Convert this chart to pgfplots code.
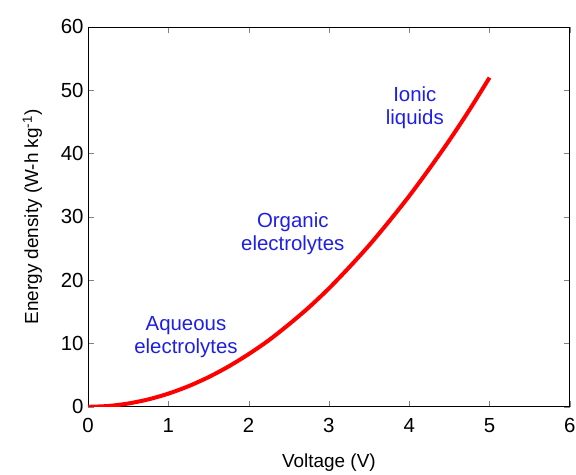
\documentclass[border=0pt]{standalone}
\usepackage{fontspec}
\setmainfont{Liberation Sans}
\usepackage{pgfplots}
\pgfplotsset{compat=1.18}
\definecolor{lblblue}{RGB}{30,30,230}

\begin{document}
\begin{tikzpicture}
  \begin{axis}[
      scale only axis,
      width=482bp, height=380bp,
      xmin=0, xmax=6,
      ymin=0, ymax=60,
      xtick={0,1,...,6},
      ytick={0,10,...,60},
      tick align=inside,
      major tick length=6bp,
      xlabel={Voltage (V)},
      ylabel={Energy density (W-h kg\textsuperscript{-1})},
      ylabel style={yshift=12bp},
      xlabel style={yshift=-14bp},
      xticklabel style={yshift=-8bp},
      yticklabel style={xshift=-1bp},
      /pgf/number format/assume math mode=true,
      tick label style={font=\fontsize{20.5}{23}\selectfont},
      label style={font=\fontsize{19}{22}\selectfont},
      axis line style={line width=0.9pt},
    ]
    \addplot[color=red, line width=4pt, smooth] coordinates {
      (0,0) (0.25,0.13) (0.5,0.52) (0.75,1.17) (1,2.08) (1.25,3.25)
      (1.5,4.68) (1.75,6.37) (2,8.32) (2.25,10.5) (2.5,13.0) (2.75,15.7)
      (3,18.7) (3.25,22.0) (3.5,25.5) (3.75,29.3) (4,33.3) (4.25,37.6)
      (4.5,42.1) (4.75,46.9) (5,52.0)
    };
    \node[lblblue, align=center, font=\fontsize{20.5}{23}\selectfont] at (axis cs:1.22,11.0) {Aqueous\\electrolytes};
    \node[lblblue, align=center, font=\fontsize{20.5}{23}\selectfont] at (axis cs:2.55,27.3) {Organic\\electrolytes};
    \node[lblblue, align=center, font=\fontsize{20.5}{23}\selectfont] at (axis cs:4.07,47.2) {Ionic\\liquids};
    \coordinate (bbsw) at (axis cs:-1.096,-10.74);
    \coordinate (bbne) at (axis cs:6.077,64.26);
  \end{axis}
  \pgfresetboundingbox
  \useasboundingbox (bbsw) rectangle (bbne);
\end{tikzpicture}
\end{document}
